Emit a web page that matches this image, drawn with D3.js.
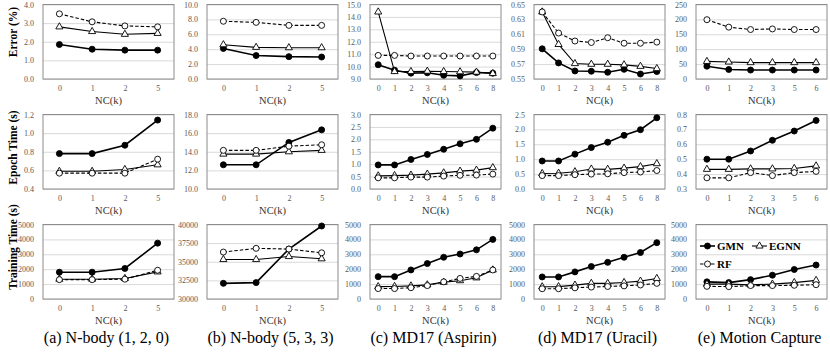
<!DOCTYPE html>
<html>
<head>
<meta charset="utf-8">
<script src="https://cdn.jsdelivr.net/npm/d3@7"></script>
<style>
  body { margin: 0; background: #fff; }
  svg { display: block; font-family: "Liberation Serif", "Times New Roman", serif; }
  .axis { font-family: "Liberation Serif", "Times New Roman", serif; }
  .grid line { stroke: #d9d9d9; stroke-width: 1; }
  .axis text { fill: #595959; font-size: 8px; }
  .axis path { display: none; }
  .xtitle { font-size: 10.5px; fill: #333; }
  .ytitle { font-size: 11.5px; font-weight: bold; fill: #000; }
  .caption { font-size: 16px; fill: #000; }
  .legend text { font-size: 11px; font-weight: bold; fill: #000; }
</style>
</head>
<body>
<svg id="chart" width="830" height="356"></svg>
<script>
// series order in every data array: GMN, EGNN, RF
var seriesNames = ["GMN", "EGNN", "RF"];

var ncA = ["0", "1", "2", "5"];
var ncB = ["0", "1", "2", "5"];
var ncC = ["0", "1", "2", "3", "4", "5", "6", "8"];
var ncD = ["0", "1", "2", "3", "4", "5", "6", "8"];
var ncE = ["0", "1", "2", "3", "5", "6"];

var captions = ["(a) N-body (1, 2, 0)", "(b) N-body (5, 3, 3)", "(c) MD17 (Aspirin)", "(d) MD17 (Uracil)", "(e) Motion Capture"];
var rowTitles = ["Error (%)", "Epoch Time (s)", "Training Time (s)"];
var xTitle = "NC(k)";

// error
var aErr = [[1.85, 1.6, 1.55, 1.55], [2.8, 2.55, 2.4, 2.45], [3.5, 3.07, 2.85, 2.8]];
var bErr = [[4.1, 3.15, 3.0, 2.95], [4.6, 4.25, 4.2, 4.2], [7.75, 7.6, 7.2, 7.2]];
var cErr = [[10.15, 9.71, 9.47, 9.5, 9.3, 9.25, 9.52, 9.47],
            [14.4, 9.6, 9.6, 9.63, 9.6, 9.58, 9.55, 9.44],
            [10.9, 10.9, 10.85, 10.85, 10.85, 10.85, 10.85, 10.85]];
var dErr = [[0.5905, 0.5716, 0.5608, 0.5604, 0.559, 0.563, 0.5567, 0.56],
            [0.64, 0.5964, 0.5707, 0.5698, 0.5698, 0.569, 0.567, 0.564],
            [0.64, 0.6117, 0.601, 0.599, 0.6054, 0.598, 0.598, 0.5995]];
var eErr = [[43, 32, 30, 30, 30, 30], [59, 57, 55, 55, 55, 55], [199, 174, 166, 168, 166, 166]];

// epoch time
var aEpoch = [[0.78, 0.78, 0.87, 1.14], [0.59, 0.59, 0.61, 0.66], [0.57, 0.57, 0.57, 0.72]];
var bEpoch = [[12.6, 12.6, 15.0, 16.35], [13.75, 13.75, 14.0, 14.15], [14.15, 14.15, 14.6, 14.75]];
var cEpoch = [[0.97, 0.97, 1.19, 1.39, 1.6, 1.82, 2.0, 2.45],
              [0.53, 0.54, 0.56, 0.6, 0.65, 0.72, 0.76, 0.86],
              [0.45, 0.45, 0.48, 0.48, 0.52, 0.55, 0.56, 0.6]];
var dEpoch = [[0.94, 0.94, 1.17, 1.39, 1.57, 1.8, 1.99, 2.39],
              [0.52, 0.53, 0.58, 0.67, 0.66, 0.7, 0.75, 0.85],
              [0.45, 0.45, 0.48, 0.5, 0.51, 0.55, 0.57, 0.62]];
var eEpoch = [[0.5, 0.5, 0.555, 0.627, 0.689, 0.76],
              [0.432, 0.432, 0.435, 0.435, 0.438, 0.455],
              [0.375, 0.375, 0.41, 0.39, 0.41, 0.418]];

// training time
var aTrain = [[1800, 1800, 2050, 3750], [1330, 1330, 1380, 1820], [1300, 1300, 1330, 1930]];
var bTrain = [[32100, 32200, 36700, 39800], [35300, 35300, 35700, 35400], [36300, 36800, 36700, 36200]];
var cTrain = [[1500, 1500, 1950, 2380, 2800, 3020, 3300, 4000],
              [830, 840, 880, 950, 1130, 1230, 1420, 1950],
              [700, 700, 760, 900, 1150, 1380, 1520, 1950]];
var dTrain = [[1480, 1480, 1820, 2180, 2460, 2800, 3120, 3780],
              [820, 830, 930, 1050, 1050, 1110, 1200, 1380],
              [690, 690, 750, 800, 840, 880, 940, 1050]];
var eTrain = [[1150, 1100, 1300, 1600, 1980, 2280],
              [1000, 1000, 950, 1000, 1100, 1250],
              [850, 830, 900, 900, 920, 960]];

// y tick labels
var aErrTicks = ["0.0", "1.0", "2.0", "3.0", "4.0"];
var bErrTicks = ["0.0", "2.0", "4.0", "6.0", "8.0", "10.0"];
var cErrTicks = ["9.0", "10.0", "11.0", "12.0", "13.0", "14.0", "15.0"];
var dErrTicks = ["0.55", "0.57", "0.59", "0.61", "0.63", "0.65"];
var eErrTicks = ["0", "50", "100", "150", "200", "250"];
var aEpochTicks = ["0.4", "0.6", "0.8", "1.0", "1.2"];
var bEpochTicks = ["10.0", "12.0", "14.0", "16.0", "18.0"];
var cEpochTicks = ["0.0", "0.5", "1.0", "1.5", "2.0", "2.5", "3.0"];
var dEpochTicks = ["0.0", "0.5", "1.0", "1.5", "2.0", "2.5"];
var eEpochTicks = ["0.3", "0.4", "0.5", "0.6", "0.7", "0.8"];
var aTrainTicks = ["0", "1000", "2000", "3000", "4000", "5000"];
var bTrainTicks = ["30000", "32500", "35000", "37500", "40000"];
var cTrainTicks = ["0", "1000", "2000", "3000", "4000", "5000"];
var dTrainTicks = ["0", "1000", "2000", "3000", "4000", "5000"];
var eTrainTicks = ["0", "1000", "2000", "3000", "4000", "5000"];

var panels = [
    {nc: ncA, rows: [[aErr, aErrTicks], [aEpoch, aEpochTicks], [aTrain, aTrainTicks]]},
    {nc: ncB, rows: [[bErr, bErrTicks], [bEpoch, bEpochTicks], [bTrain, bTrainTicks]]},
    {nc: ncC, rows: [[cErr, cErrTicks], [cEpoch, cEpochTicks], [cTrain, cTrainTicks]]},
    {nc: ncD, rows: [[dErr, dErrTicks], [dEpoch, dEpochTicks], [dTrain, dTrainTicks]]},
    {nc: ncE, rows: [[eErr, eErrTicks], [eEpoch, eEpochTicks], [eTrain, eTrainTicks]]}
];

var colLeft = [43, 207, 370, 534, 696]
    , rowTop = [4.5, 114.5, 224.5]
    , pw = 131
    , ph = 74.5
    , titleY = [32, 147.5, 247];

var svg = d3.select("#chart");

var lineStyle = [
    {width: 1.6, dash: null},
    {width: 1.1, dash: null},
    {width: 1.1, dash: "3.5,2"}
];

function drawMarker(sel, k) {
    if (k === 1) {
        sel.append("path")
            .attr("d", d3.symbol(d3.symbolTriangle, 22)())
            .attr("fill", "#fff").attr("stroke", "#000").attr("stroke-width", 0.9);
    } else {
        sel.append("circle")
            .attr("r", 3)
            .attr("fill", k === 0 ? "#000" : "#fff")
            .attr("stroke", "#000").attr("stroke-width", 0.9);
    }
}

panels.forEach(function(p, ci) {
    p.rows.forEach(function(r, ri) {
        var vals = r[0], ticks = r[1].map(Number), labels = r[1];
        var g = svg.append("g")
            .attr("transform", "translate(" + colLeft[ci] + "," + rowTop[ri] + ")");

        var x = d3.scalePoint().domain(p.nc).range([0, pw]).padding(0.5);
        var y = d3.scaleLinear().domain(d3.extent(ticks)).range([ph, 0]);

        var yAxis = d3.axisLeft(y)
            .tickValues(ticks)
            .tickSize(-pw)
            .tickPadding(9)
            .tickFormat(function(d, i) { return labels[i]; });

        var ya = g.append("g").attr("class", "axis grid").call(yAxis);
        ya.selectAll("text").attr("x", -9);

        g.append("rect")
            .attr("width", pw).attr("height", ph)
            .attr("fill", "none").attr("stroke", "#8c8c8c").attr("stroke-width", 1);

        var xa = g.append("g")
            .attr("class", "axis")
            .attr("transform", "translate(0," + ph + ")")
            .call(d3.axisBottom(x).tickSize(0).tickPadding(6));
        xa.selectAll("text").attr("dy", "0.71em");

        g.append("text")
            .attr("class", "xtitle")
            .attr("x", pw / 2).attr("y", ph + 25)
            .attr("text-anchor", "middle")
            .text(xTitle);

        var line = d3.line()
            .x(function(d, i) { return x(p.nc[i]); })
            .y(function(d) { return y(d); });

        vals.forEach(function(s, k) {
            g.append("path")
                .attr("d", line(s))
                .attr("fill", "none")
                .attr("stroke", "#000")
                .attr("stroke-width", lineStyle[k].width)
                .attr("stroke-dasharray", lineStyle[k].dash);
            s.forEach(function(v, i) {
                var m = g.append("g").attr("transform", "translate(" + x(p.nc[i]) + "," + y(v) + ")");
                drawMarker(m, k);
            });
        });
    });

    svg.append("text")
        .attr("class", "caption")
        .attr("x", colLeft[ci] + pw / 2 - 2)
        .attr("y", 343)
        .attr("text-anchor", "middle")
        .text(captions[ci]);
});

rowTitles.forEach(function(t, i) {
    svg.append("text")
        .attr("class", "ytitle")
        .attr("transform", "translate(17," + titleY[i] + ") rotate(-90)")
        .attr("text-anchor", "middle")
        .text(t);
});

// legend inside last training-time panel
var legendPos = [[700, 246], [752, 246], [700, 264]];
var lg = svg.append("g").attr("class", "legend");
seriesNames.forEach(function(name, k) {
    var lx = legendPos[k][0], ly = legendPos[k][1];
    var item = lg.append("g").attr("transform", "translate(" + lx + "," + ly + ")");
    item.append("line")
        .attr("x1", 0).attr("x2", 15)
        .attr("stroke", "#000")
        .attr("stroke-width", lineStyle[k].width)
        .attr("stroke-dasharray", lineStyle[k].dash);
    drawMarker(item.append("g").attr("transform", "translate(7.5,0)"), k);
    item.append("text")
        .attr("x", 17).attr("dy", "0.35em")
        .text(name);
});
</script>
</body>
</html>
